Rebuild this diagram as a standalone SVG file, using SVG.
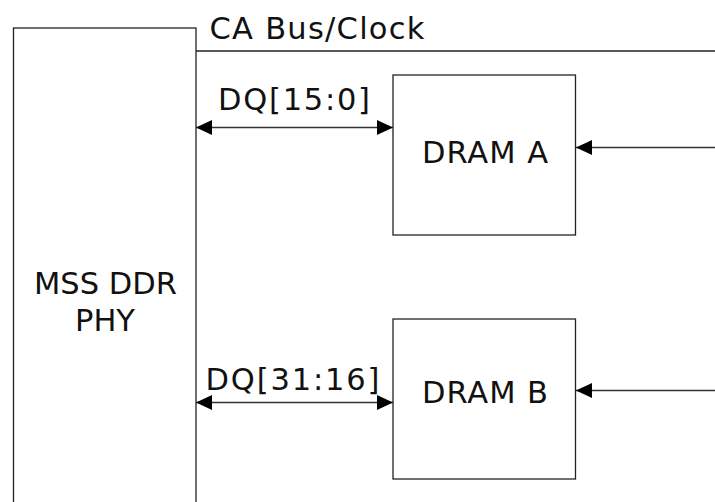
<svg xmlns="http://www.w3.org/2000/svg" width="715" height="502" viewBox="0 0 715 502">
<style>
.box{fill:#fff;stroke:#222;stroke-width:1.3}
.ln{fill:none;stroke:#333;stroke-width:1.5}
text{font-family:"DejaVu Sans",Verdana,sans-serif;font-size:30.5px;fill:#111}
.c{text-anchor:middle}
</style>
<defs>
<marker id="ah" markerUnits="userSpaceOnUse" markerWidth="16" markerHeight="15" refX="16" refY="7.5" orient="auto-start-reverse" viewBox="0 0 16 15">
<path d="M0,0 L16,7.5 L0,15 z" fill="#000"/>
</marker>
</defs>
<g id="phy">
<rect class="box" x="13.5" y="28" width="182.5" height="490"/>
<text class="c" x="105.5" y="294">MSS DDR</text>
<text class="c" x="105" y="330.5">PHY</text>
</g>
<g id="dramA">
<rect class="box" x="393" y="75" width="182.5" height="160"/>
<text class="c" x="485" y="163.3" textLength="126" lengthAdjust="spacing">DRAM A</text>
</g>
<g id="dramB">
<rect class="box" x="393" y="319" width="182.5" height="160"/>
<text class="c" x="485" y="403.3" textLength="126" lengthAdjust="spacing">DRAM B</text>
</g>
<g id="connectors">
<line class="ln" x1="196" y1="51" x2="715" y2="51" style="stroke:#222;stroke-width:1.3"/>
<line class="ln" x1="196" y1="127.5" x2="393" y2="127.5" marker-start="url(#ah)" marker-end="url(#ah)"/>
<line class="ln" x1="196" y1="402.5" x2="393" y2="402.5" marker-start="url(#ah)" marker-end="url(#ah)"/>
<line class="ln" x1="715" y1="147.5" x2="576" y2="147.5" marker-end="url(#ah)"/>
<line class="ln" x1="715" y1="390.5" x2="576" y2="390.5" marker-end="url(#ah)"/>
</g>
<g id="labels">
<text x="209.5" y="39.3" textLength="215" lengthAdjust="spacing">CA Bus/Clock</text>
<text class="c" x="294" y="110" textLength="152" lengthAdjust="spacing">DQ[15:0]</text>
<text class="c" x="292.5" y="390" textLength="174" lengthAdjust="spacing">DQ[31:16]</text>
</g>
</svg>
